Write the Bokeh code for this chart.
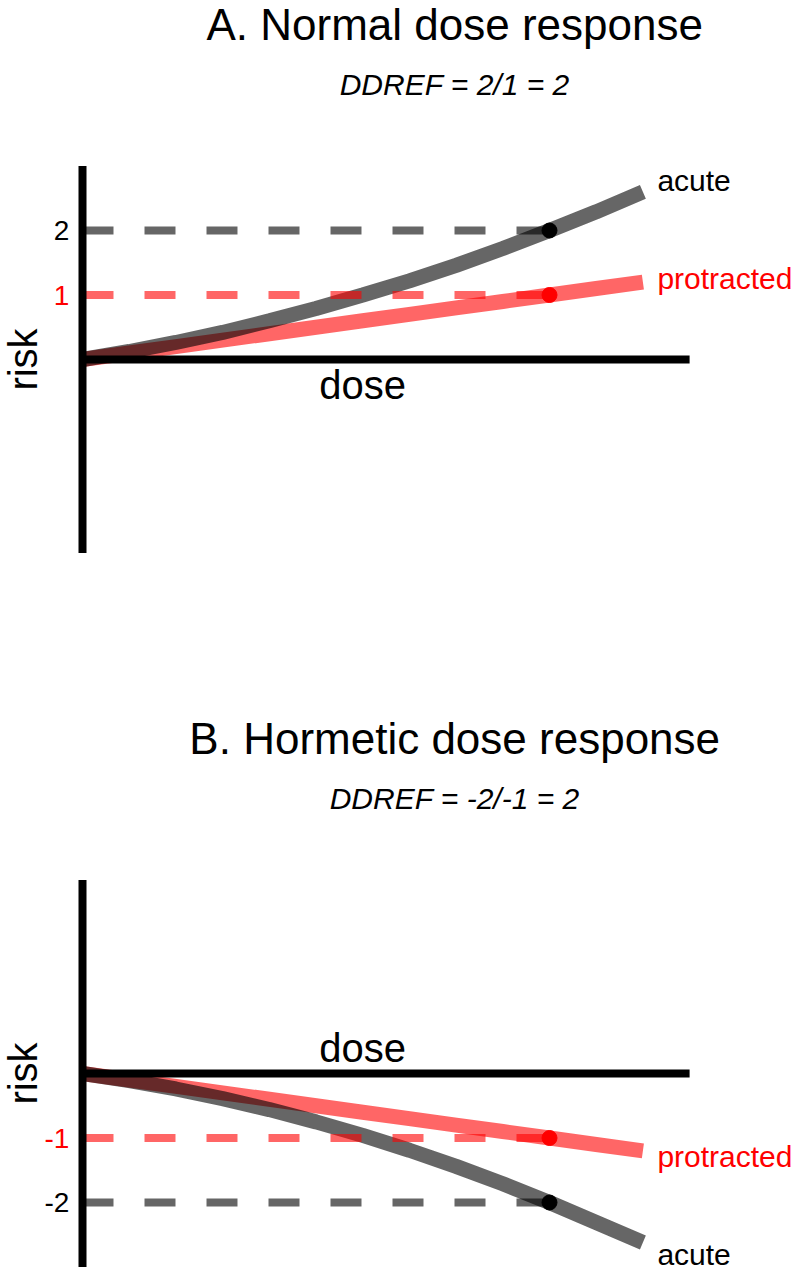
import math
from bokeh.plotting import figure
from bokeh.layouts import column
from bokeh.models import Range1d
from bokeh.core.properties import value
from bokeh.embed import file_html
from bokeh.resources import INLINE

# ---------------- data ----------------
dose = [0.0, 0.1, 0.2, 0.3, 0.4, 0.5, 0.6, 0.7, 0.8, 0.9, 1.0, 1.1, 1.2]

# Panel A: normal dose response
acute_A = [0.0, 0.124, 0.264, 0.42, 0.60, 0.79, 1.00, 1.22, 1.46, 1.72, 2.0, 2.29, 2.60]
protracted_A = [0.0, 0.1, 0.2, 0.3, 0.4, 0.5, 0.6, 0.7, 0.8, 0.9, 1.0, 1.1, 1.2]

# Panel B: hormetic dose response
acute_B = [0.0, -0.11, -0.24, -0.39, -0.56, -0.75, -0.96, -1.19, -1.44, -1.71, -2.0, -2.31, -2.62]
protracted_B = [0.0, -0.1, -0.2, -0.3, -0.4, -0.5, -0.6, -0.7, -0.8, -0.9, -1.0, -1.1, -1.2]

ref_dose = 1.0
ref_A = {"acute": 2, "protracted": 1}
ref_B = {"acute": -2, "protracted": -1}

titles = ["A. Normal dose response", "B. Hormetic dose response"]
subtitles = ["DDREF = 2/1 = 2", "DDREF = -2/-1 = 2"]
tick_labels_A = ["2", "1"]
tick_labels_B = ["-2", "-1"]

axis_dose_max = 1.3
axis_risk_extent = 3.0

# ---------------- styling ----------------
FONT = "Liberation Sans"
GRAY = "black"
RED = "red"
PX_PER_DOSE = 467.0
PX_PER_RISK = 64.5
W = 800
ORIGIN_X = 82      # px from left of figure


def panel(height, origin_y, title, subtitle, acute, protracted, ref, ticks,
          dose_label_y, acute_lab_y, prot_lab_y):
    x0 = -ORIGIN_X / PX_PER_DOSE
    x1 = (W - ORIGIN_X) / PX_PER_DOSE
    y1 = origin_y / PX_PER_RISK
    y0 = -(height - origin_y) / PX_PER_RISK
    p = figure(width=W, height=height, x_range=Range1d(x0, x1), y_range=Range1d(y0, y1),
               x_axis_type=None, y_axis_type=None, toolbar_location=None,
               output_backend="svg", min_border=0, outline_line_color=None,
               background_fill_color="white", border_fill_color="white")

    # curves
    p.line(dose, protracted, line_color=RED, line_alpha=0.6, line_width=15, line_cap="butt")
    p.line(dose, acute, line_color=GRAY, line_alpha=0.6, line_width=15, line_cap="butt")

    # dashed reference lines
    p.line([0, ref_dose], [ref["acute"], ref["acute"]], line_color=GRAY, line_alpha=0.6,
           line_width=8, line_dash="31 31")
    p.line([0, ref_dose], [ref["protracted"], ref["protracted"]], line_color=RED,
           line_alpha=0.6, line_width=8, line_dash="31 31")

    # axes lines
    p.segment(x0=[0, 0], y0=[-axis_risk_extent, 0], x1=[0, axis_dose_max],
              y1=[axis_risk_extent, 0], line_color="black", line_width=8, line_cap="butt")

    # reference dots
    p.scatter([ref_dose], [ref["acute"]], size=15, color="black")
    p.scatter([ref_dose], [ref["protracted"]], size=15, color="red")

    # titles
    p.text([0.797], [5.19], text=[title], text_font=value(FONT), text_font_size="44px",
           text_align="center", text_baseline="middle", text_color="black")
    p.text([0.797], [4.27], text=[subtitle], text_font=value(FONT), text_font_size="30px",
           text_font_style="italic", text_align="center", text_baseline="middle",
           text_color="black")

    # tick labels
    p.text([-0.028, -0.028], [ref["acute"], ref["protracted"]], text=ticks,
           text_font=value(FONT), text_font_size="28px", text_align="right",
           text_baseline="middle", text_color=["black", "red"])

    # axis titles
    p.text([0.6], [dose_label_y], text=["dose"], text_font=value(FONT), text_font_size="40px",
           text_align="center", text_baseline="middle", text_color="black")
    p.text([-0.128], [0], text=["risk"], angle=math.pi / 2, text_font=value(FONT),
           text_font_size="40px", text_align="center", text_baseline="middle",
           text_color="black")

    # curve labels
    p.text([1.231], [acute_lab_y], text=["acute"], text_font=value(FONT), text_font_size="30px",
           text_align="left", text_baseline="middle", text_color="black")
    p.text([1.231], [prot_lab_y], text=["protracted"], text_font=value(FONT),
           text_font_size="30px", text_align="left", text_baseline="middle",
           text_color="red")
    return p


pA = panel(600, 359, titles[0], subtitles[0], acute_A, protracted_A, ref_A, tick_labels_A,
           -0.40, 2.78, 1.26)
pB = panel(672, 473, titles[1], subtitles[1], acute_B, protracted_B, ref_B, tick_labels_B,
           0.39, -2.81, -1.29)

layout = column(pA, pB, spacing=0)
open("out.html", "w").write(file_html(layout, INLINE))
